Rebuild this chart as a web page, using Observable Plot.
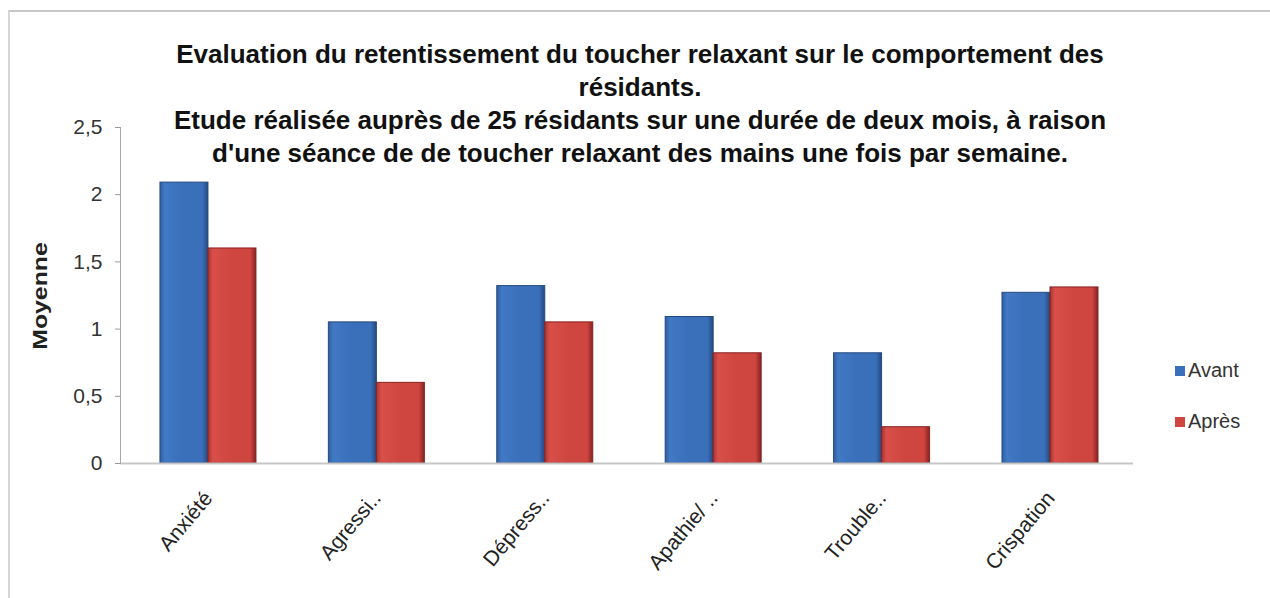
<!DOCTYPE html>
<html><head><meta charset="utf-8">
<script src="https://cdn.jsdelivr.net/npm/d3@7"></script>
<script src="https://cdn.jsdelivr.net/npm/@observablehq/plot@0.6"></script>
<style>
body{margin:0;background:#fff;}
#wrap{position:relative;width:1270px;height:598px;overflow:hidden;font-family:"Liberation Sans",Arial,sans-serif;}
#border{position:absolute;left:8px;top:10px;right:-4px;bottom:-4px;border-top:2px solid #c9c9c9;border-left:2px solid #d6d6d6;}
#chart{position:absolute;left:0;top:0;}
#title{position:absolute;left:5px;width:1270px;top:38px;text-align:center;font-weight:bold;font-size:26px;line-height:33px;color:#111;white-space:nowrap;}
#ylab{position:absolute;left:40px;top:296px;transform:translate(-50%,-50%) rotate(-90deg) scaleX(1.18);font-weight:bold;font-size:21px;color:#222;white-space:nowrap;}
.leg{position:absolute;left:1175px;font-size:20px;color:#333;display:flex;align-items:center;white-space:nowrap;}
.sw{width:10px;height:10px;margin-right:3px;}
</style></head>
<body>
<div id="wrap">
  <div id="border"></div>
  <div id="chart"></div>
  <div id="title"></div>
  <div id="ylab"></div>
  <div id="legend"></div>
</div>
<script>
const categories = ["Anxiété", "Agressi..", "Dépress..", "Apathie/ ..", "Trouble..", "Crispation"];
const avant = [2.09, 1.05, 1.32, 1.09, 0.82, 1.27];
const apres = [1.60, 0.60, 1.05, 0.82, 0.27, 1.31];
const seriesNames = ["Avant", "Après"];
const seriesColors = ["#3a6fba", "#cf4540"];
const yTicks = [0, 0.5, 1, 1.5, 2, 2.5];
const titleLines = [
  "Evaluation du retentissement du toucher relaxant sur le comportement des",
  "résidants.",
  "Etude réalisée auprès de 25 résidants sur une durée de deux mois, à raison",
  "d'une séance de de toucher relaxant des mains une fois par semaine."
];
const yLabel = "Moyenne";

const rowsAvant = categories.map((c, i) => ({cat: c, value: avant[i], serie: seriesNames[0]}));
const rowsApres = categories.map((c, i) => ({cat: c, value: apres[i], serie: seriesNames[1]}));

const chart = Plot.plot({
  width: 1270,
  height: 598,
  marginTop: 127,
  marginBottom: 135,
  marginLeft: 120,
  marginRight: 137,
  style: {fontFamily: "Liberation Sans, Arial, sans-serif", fontSize: "20px", color: "#333", background: "transparent"},
  x: {domain: categories, paddingInner: 0.43, paddingOuter: 0.2226, align: 0.533, round: false, label: null},
  y: {domain: [0, 2.5], label: null},
  marks: [
    Plot.barY(rowsAvant, {x: "cat", y: "value", fill: "url(#gBlue)", stroke: "#24497e", strokeWidth: 1, insetRight: 48}),
    Plot.barY(rowsApres, {x: "cat", y: "value", fill: "url(#gRed)", stroke: "#852421", strokeWidth: 1, insetLeft: 48}),
    Plot.ruleY([0], {stroke: "#c6c6c6", strokeWidth: 2}),
    Plot.frame({anchor: "left", stroke: "#a8a8a8"}),
    Plot.axisY({ticks: yTicks, tickFormat: d => String(d).replace(".", ","), tickSize: 5, tickPadding: 13, stroke: "#999", fill: "#333", fontSize: 21, label: null}),
    Plot.axisX({tickRotate: -50, tickSize: 0, tickPadding: 31, fill: "#222", fontSize: 21, label: null})
  ]
});

const defs = d3.select(chart).insert("defs", ":first-child");
function grad(id, edge, main, light, dark) {
  const g = defs.append("linearGradient").attr("id", id).attr("x1", 0).attr("x2", 1).attr("y1", 0).attr("y2", 0);
  g.append("stop").attr("offset", "0%").attr("stop-color", edge);
  g.append("stop").attr("offset", "10%").attr("stop-color", light);
  g.append("stop").attr("offset", "50%").attr("stop-color", main);
  g.append("stop").attr("offset", "88%").attr("stop-color", main);
  g.append("stop").attr("offset", "100%").attr("stop-color", dark);
}
grad("gBlue", "#2f5e9f", seriesColors[0], "#4179c4", "#234a80");
grad("gRed", "#a8332f", seriesColors[1], "#d84f4a", "#86231f");

document.getElementById("chart").appendChild(chart);
document.getElementById("title").innerHTML = titleLines.map(t => t.replace(/&/g, "&amp;").replace(/</g, "&lt;")).join("<br>");
document.getElementById("ylab").textContent = yLabel;

const legend = document.getElementById("legend");
const legTops = [359, 410];
seriesNames.forEach((s, i) => {
  const d = document.createElement("div");
  d.className = "leg";
  d.style.top = legTops[i] + "px";
  const sw = document.createElement("span");
  sw.className = "sw";
  sw.style.background = seriesColors[i];
  d.appendChild(sw);
  d.appendChild(document.createTextNode(s));
  legend.appendChild(d);
});
</script>
</body></html>
